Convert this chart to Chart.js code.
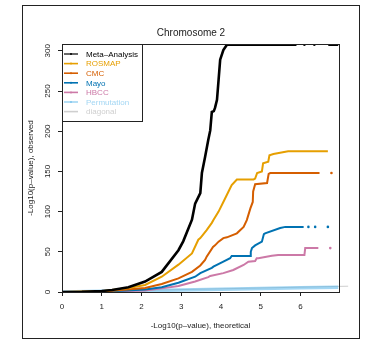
<!DOCTYPE html>
<html>
<head>
<meta charset="utf-8">
<script src="https://cdn.jsdelivr.net/npm/chart.js@4"></script>
<style>
  html, body { margin: 0; padding: 0; background: #fff; }
</style>
</head>
<body>
<canvas id="qq" width="367" height="340"></canvas>
<script>
// QQ plot, chromosome 2
const xTicks = [0, 1, 2, 3, 4, 5, 6];
const yTicks = [0, 50, 100, 150, 200, 250, 300];

const metaX = [0, 0.5, 1.0, 1.26, 1.67, 2.09, 2.51, 2.93, 3.05, 3.27, 3.35, 3.48, 3.52, 3.6, 3.68, 3.73, 3.77, 3.82, 3.85, 3.9, 3.94, 3.98, 4.06, 4.15, 5.9, 6.0, 6.1, 6.2, 6.35, 6.5, 6.7, 6.95];
const metaY = [0, 0.3, 1.2, 2.5, 6, 13, 25, 52, 63, 90, 110, 123, 148, 168, 189, 201, 224, 225, 229, 239, 264, 289, 301, 307.6, 307.6, null, 307.6, null, 307.6, null, 307.6, 307.6];

const rosmapX = [0, 1.0, 1.67, 2.09, 2.51, 2.93, 3.27, 3.43, 3.48, 3.64, 3.77, 3.81, 3.94, 4.06, 4.19, 4.27, 4.4, 4.82, 4.86, 4.91, 5.03, 5.06, 5.19, 5.22, 5.32, 5.69, 6.69];
const rosmapY = [0, 1, 5, 8.7, 19, 34, 48, 65, 67, 77, 86, 89.5, 100, 112, 125, 133, 140, 140, 141, 148, 150, 160, 162, 170, 171.6, 175, 175];

const cmcX = [0, 1.0, 2.09, 2.51, 2.93, 3.27, 3.48, 3.6, 3.64, 3.8, 3.85, 3.94, 4.06, 4.15, 4.4, 4.57, 4.65, 4.74, 4.8, 4.81, 4.86, 5.16, 5.2, 5.24, 6.48, 6.6, 6.78];
const cmcY = [0, 0.5, 5, 10, 17, 25, 33, 40, 44, 56, 58, 62.6, 67, 68, 73, 81, 89.5, 104, 112, 125, 134, 135.6, 147, 148, 148, null, 148];

const mayoX = [0, 1.0, 2.09, 2.51, 2.93, 3.35, 3.48, 3.77, 3.81, 4.06, 4.23, 4.27, 4.74, 4.75, 4.78, 4.86, 5.03, 5.08, 5.11, 5.49, 5.62, 6.08, 6.14, 6.2, 6.28, 6.37, 6.5, 6.69];
const mayoY = [0, 0.3, 3, 6, 11.6, 19, 23.5, 30, 31.5, 37.7, 42, 44.8, 44.8, 50, 54.6, 58, 62.6, 72, 73, 79.6, 81, 81, null, 81, null, 81, null, 81];

const hbccX = [0, 1.0, 2.09, 2.51, 2.93, 3.35, 3.68, 3.73, 4.06, 4.31, 4.57, 4.69, 4.86, 4.9, 4.94, 5.28, 5.44, 6.1, 6.12, 6.45, 6.6, 6.75];
const hbccY = [0, 0.2, 2, 4.5, 7.5, 13, 18.5, 20, 23.5, 27.4, 33.6, 37.7, 38.5, 42, 42, 45, 46, 46, 54.6, 54.6, null, 54.6];

const permX = [0, 1, 2, 3, 4, 5, 6, 6.95];
const permY = [0, 0.8, 1.6, 2.5, 3.4, 4.3, 5.2, 6.0];

const diagX = [0, 7.2];
const diagY = [0, 7.2];

const seriesNames = ['Meta\u2013Analysis', 'ROSMAP', 'CMC', 'Mayo', 'HBCC', 'Permutation', 'diagonal'];
const seriesColors = ['#000000', '#E69F00', '#D55E00', '#0072B2', '#CC79A7', 'rgba(86,180,233,0.55)', '#cfcfcf'];

const FONT = '"Liberation Sans", Arial, Helvetica, sans-serif';

function pts(xs, ys) {
  return xs.map((x, i) => ({x: x, y: ys[i]}));
}

// a lone point between gaps gets a dot, everything else is drawn as line
function loneDot(ctx) {
  const d = ctx.dataset.data, i = ctx.dataIndex;
  if (d[i].y == null) return 0;
  const prevGap = i === 0 || d[i - 1].y == null;
  const nextGap = i === d.length - 1 || d[i + 1].y == null;
  return (prevGap && nextGap) ? 1.3 : 0;
}

function series(xs, ys, color, width) {
  return {
    data: pts(xs, ys),
    showLine: true,
    spanGaps: false,
    borderColor: color,
    backgroundColor: color,
    borderWidth: width,
    pointRadius: loneDot,
    pointBorderWidth: 0,
    tension: 0
  };
}

const framePlugin = {
  id: 'frame',
  beforeDraw(chart) {
    const c = chart.ctx;
    c.save();
    c.fillStyle = '#fff';
    c.fillRect(0, 0, chart.width, chart.height);
    c.strokeStyle = '#222';
    c.lineWidth = 1;
    c.strokeRect(22.5, 5.5, 337, 333);
    c.restore();
  },
  afterDraw(chart) {
    const c = chart.ctx;
    const a = chart.chartArea;
    const xs = chart.scales.x, ys = chart.scales.y;
    c.save();
    // plot box
    c.strokeStyle = '#222';
    c.lineWidth = 1;
    c.strokeRect(Math.round(a.left) + 0.5, Math.round(a.top) + 0.5, Math.round(a.right - a.left), Math.round(a.bottom - a.top));

    // tick labels
    c.fillStyle = '#222';
    c.font = '8px ' + FONT;
    c.textAlign = 'center';
    c.textBaseline = 'middle';
    xTicks.forEach(v => c.fillText(String(v), xs.getPixelForValue(v), a.bottom + 15));
    yTicks.forEach(v => {
      c.save();
      c.translate(a.left - 14, ys.getPixelForValue(v));
      c.rotate(-Math.PI / 2);
      c.fillText(String(v), 0, 0);
      c.restore();
    });

    // axis titles and main title
    c.fillText('-Log10(p\u2013value), theoretical', (a.left + a.right) / 2, 326);
    c.save();
    c.translate(31, (a.top + a.bottom) / 2);
    c.rotate(-Math.PI / 2);
    c.fillText('-Log10(p\u2013value), observed', 0, 0);
    c.restore();
    c.font = '10px ' + FONT;
    c.fillText('Chromosome 2', 191, 33);

    // legend
    const lx = Math.round(a.left), ly = Math.round(a.top);
    c.fillStyle = '#fff';
    c.fillRect(lx, ly, 80, 77);
    c.strokeStyle = '#222';
    c.strokeRect(lx + 0.5, ly + 0.5, 80, 77);
    c.font = '8px ' + FONT;
    c.textAlign = 'left';
    seriesNames.forEach((name, i) => {
      const y = ly + 10 + i * 9.6;
      const col = seriesColors[i];
      c.strokeStyle = col;
      c.lineWidth = i === 0 ? 1.2 : 1.6;
      c.beginPath();
      c.moveTo(lx + 2, y);
      c.lineTo(lx + 16, y);
      c.stroke();
      if (i < 6) {
        c.fillStyle = col;
        c.beginPath();
        c.arc(lx + 9, y, 1, 0, Math.PI * 2);
        c.fill();
      }
      c.fillStyle = col;
      c.fillText(name, lx + 24, y + 0.5);
    });
    c.restore();
  }
};

const diagSet = series(diagX, diagY, seriesColors[6], 1);
diagSet.clip = false;

const ctx = document.getElementById('qq').getContext('2d');
new Chart(ctx, {
  type: 'scatter',
  data: {
    datasets: [
      series(metaX, metaY, seriesColors[0], 2.6),
      series(rosmapX, rosmapY, seriesColors[1], 2),
      series(cmcX, cmcY, seriesColors[2], 2),
      series(mayoX, mayoY, seriesColors[3], 2),
      series(hbccX, hbccY, seriesColors[4], 2),
      series(permX, permY, seriesColors[5], 3.5),
      diagSet
    ]
  },
  options: {
    responsive: false,
    animation: false,
    devicePixelRatio: 1,
    layout: { padding: { left: 0, top: 44, right: 28, bottom: 0 } },
    plugins: {
      legend: { display: false },
      title: { display: false },
      tooltip: { enabled: false }
    },
    scales: {
      x: {
        type: 'linear',
        min: 0,
        max: 6.97,
        afterBuildTicks: s => { s.ticks = xTicks.map(v => ({value: v})); },
        afterFit: s => { s.height = 48; },
        ticks: { display: false },
        grid: { drawOnChartArea: false, drawTicks: true, tickLength: 4, color: '#222', lineWidth: 1 },
        border: { display: false }
      },
      y: {
        type: 'linear',
        min: 0,
        max: 308.5,
        afterBuildTicks: s => { s.ticks = yTicks.map(v => ({value: v})); },
        afterFit: s => { s.width = 62; },
        ticks: { display: false },
        grid: { drawOnChartArea: false, drawTicks: true, tickLength: 4, color: '#222', lineWidth: 1 },
        border: { display: false }
      }
    }
  },
  plugins: [framePlugin]
});
</script>
</body>
</html>
